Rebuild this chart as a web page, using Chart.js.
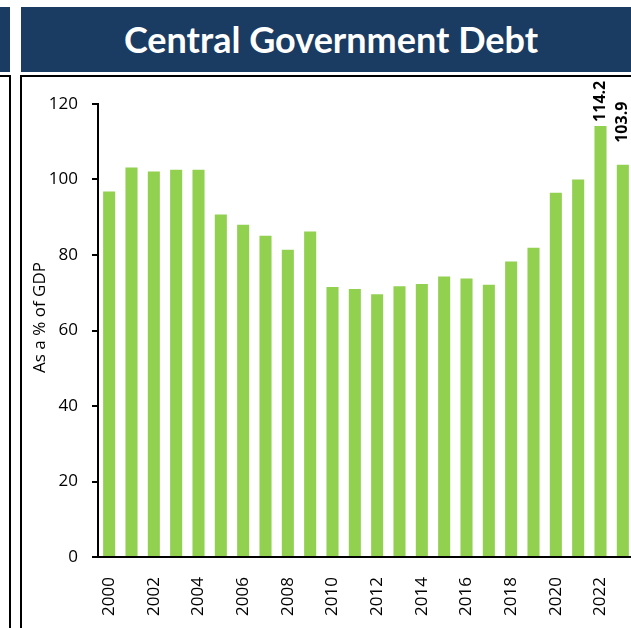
<!DOCTYPE html>
<html>
<head>
<meta charset="utf-8">
<script src="https://cdn.jsdelivr.net/npm/chart.js@4/dist/chart.umd.min.js"></script>
<style>
  html, body { margin: 0; padding: 0; background: #fff; overflow: hidden; width: 631px; height: 628px; }
  .hdr { position: absolute; top: 7px; height: 65px; background: #1a3b62; }
  .box { position: absolute; border: 2px solid #000; }
  #title { left: 21px; width: 620px; color: #fff; font-family: Lato, "Open Sans", sans-serif; font-weight: bold;
           font-size: 36px; line-height: 65px; text-align: center; }
  #wrap { position: absolute; left: 22px; top: 78px; width: 612px; height: 550px; }
</style>
</head>
<body>
<div class="hdr" style="left:-20px;width:30px"></div>
<div class="box" style="left:-20px;top:75px;width:27px;height:600px"></div>
<div class="hdr" id="title">Central Government Debt</div>
<div class="box" style="left:20px;top:75px;width:700px;height:600px"></div>
<div id="wrap"><canvas id="chart"></canvas></div>
<script>
const years = ["2000", "2001", "2002", "2003", "2004", "2005", "2006", "2007", "2008", "2009", "2010", "2011",
  "2012", "2013", "2014", "2015", "2016", "2017", "2018", "2019", "2020", "2021", "2022", "2023"];
const debt = [96.8, 103.2, 102.1, 102.6, 102.6, 90.7, 88.0, 85.1, 81.4, 86.2, 71.5, 71.0,
  69.6, 71.7, 72.3, 74.3, 73.8, 72.1, 78.3, 81.9, 96.5, 100.0, 114.2, 103.9];
const labelled = ["2022", "2023"];
const yTicks = [0, 20, 40, 60, 80, 100, 120];
const yTitle = "As a % of GDP";

const FONT = "'Open Sans', sans-serif";
const labelGap = { "2022": 4, "2023": 22 };

// value labels on the last two bars + the y axis title (sits a bit above centre)
const extras = {
  id: "extras",
  afterDatasetsDraw(chart) {
    const ctx = chart.ctx;
    const meta = chart.getDatasetMeta(0);
    const area = chart.chartArea;
    ctx.save();
    ctx.fillStyle = "#000";
    ctx.font = "bold 16px " + FONT;
    ctx.textAlign = "left";
    ctx.textBaseline = "middle";
    labelled.forEach((yr) => {
      const i = years.indexOf(yr);
      const bar = meta.data[i];
      ctx.save();
      ctx.translate(bar.x, bar.y - labelGap[yr]);
      ctx.rotate(-Math.PI / 2);
      ctx.fillText(debt[i].toFixed(1), 0, 0);
      ctx.restore();
    });
    ctx.font = "17px " + FONT;
    ctx.textAlign = "center";
    ctx.translate(18, (area.top + area.bottom) / 2 - 13);
    ctx.rotate(-Math.PI / 2);
    ctx.fillText(yTitle, 0, 0);
    ctx.restore();
  },
};

new Chart(document.getElementById("chart"), {
  type: "bar",
  data: {
    labels: years,
    datasets: [{
      data: debt,
      backgroundColor: "#92d050",
      categoryPercentage: 1,
      barPercentage: 0.54,
    }],
  },
  options: {
    responsive: true,
    maintainAspectRatio: false,
    animation: false,
    layout: { padding: { top: 26, left: 0, right: 0, bottom: 0 } },
    plugins: { legend: { display: false }, tooltip: { enabled: false } },
    scales: {
      x: {
        grid: { display: false },
        border: { display: true, color: "#000", width: 2 },
        ticks: {
          autoSkip: false,
          maxRotation: 90,
          minRotation: 90,
          padding: 12,
          color: "#000",
          font: { family: FONT, size: 17 },
          callback: (v, i) => (i % 2 === 0 ? years[i] : ""),
        },
        afterFit: (s) => { s.height = 71; s.paddingLeft = 0; s.paddingRight = 0; },
      },
      y: {
        min: 0,
        max: 120,
        afterBuildTicks: (s) => { s.ticks = yTicks.map((v) => ({ value: v })); },
        grid: { drawOnChartArea: false, drawTicks: true, tickLength: 6, color: "#000", lineWidth: 2 },
        border: { display: true, color: "#000", width: 2 },
        ticks: { padding: 14, color: "#000", font: { family: FONT, size: 17 } },
        afterFit: (s) => { s.width = 76; },
      },
    },
  },
  plugins: [extras],
});
</script>
</body>
</html>
